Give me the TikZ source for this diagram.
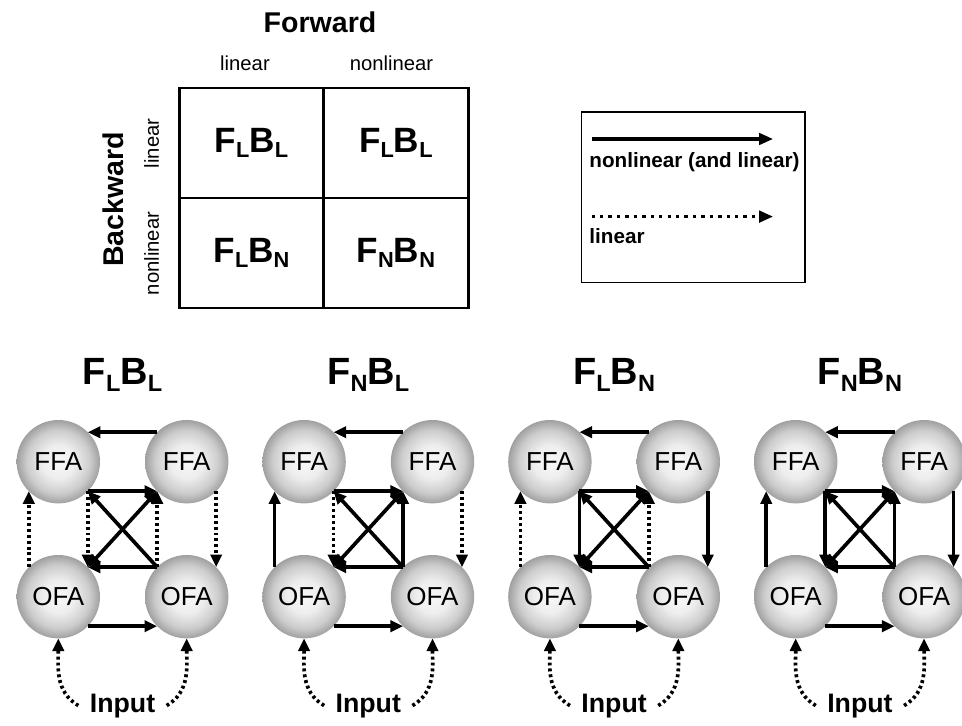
\documentclass[tikz,border=0pt]{standalone}
\usepackage{fontspec}
\setmainfont{Liberation Sans}
\usepackage{tikz}
\usetikzlibrary{arrows.meta,positioning,calc}
\definecolor{ballgray}{RGB}{160,160,160}
\definecolor{ballwhite}{RGB}{248,248,248}
\pgfdeclareradialshading{areaball}{\pgfpoint{0bp}{0bp}}{%
  color(0bp)=(ballwhite); color(10bp)=(ballwhite!88!ballgray);
  color(19bp)=(ballwhite!50!ballgray); color(25bp)=(ballgray); color(50bp)=(ballgray)}
\newcommand{\lowsub}[1]{\raisebox{-0.16em}{\scalebox{0.62}{#1}}}
\newcommand{\fbpair}[2]{F\lowsub{#1}B\lowsub{#2}}

\begin{document}
\begin{tikzpicture}[
      cell/.style={rectangle, draw=black, line width=2pt, outer sep=0pt, inner sep=0pt,
                   minimum width=3.61cm, minimum height=2.75cm,
                   font=\fontsize{25}{28}\selectfont\bfseries},
      heading/.style={font=\fontsize{20.3}{24}\selectfont\bfseries, inner sep=0pt},
      axislabel/.style={font=\fontsize{14.4}{17}\selectfont, inner sep=0pt},
      keytext/.style={font=\fontsize{14.7}{17}\selectfont\bfseries, inner sep=0pt, anchor=west},
      title/.style={font=\fontsize{27}{30}\selectfont\bfseries, anchor=base},
      area/.style={circle, shading=areaball, minimum size=2.085cm,
                   inner sep=0pt, outer sep=0pt, font=\fontsize{18.5}{20}\selectfont},
      inp/.style={font=\fontsize{19}{22}\selectfont\bfseries, anchor=base, inner xsep=8pt},
      arrowtip/.style={-{Triangle[length=9pt, width=8pt]}},
      nonlinarr/.style={arrowtip, line width=2.6pt},
      linarr/.style={arrowtip, line width=2.6pt, dash pattern=on 2.1pt off 2.1pt},
      keysolid/.style={-{Triangle[length=10pt, width=8pt]}, line width=3pt},
      keydot/.style={-{Triangle[length=10pt, width=8pt]}, line width=2.6pt,
                     dash pattern=on 2.4pt off 3.6pt},
    ]
      \useasboundingbox (0,0) rectangle (24.05,18.125);
      %% model space table
      \node[heading] (fwd) at (8.0,17.56) {Forward};
      \node[heading, rotate=90] (bwd) at (2.83,13.145) {Backward};
      \node[axislabel] (flin) at (6.125,16.54) {linear};
      \node[axislabel] (fnon) at (9.79,16.54) {nonlinear};
      \node[axislabel, rotate=90] (blin) at (3.79,14.54) {linear};
      \node[axislabel, rotate=90] (bnon) at (3.79,11.79) {nonlinear};
      \node[cell] (cLL) at (6.2875,14.55) {\fbpair{L}{L}};
      \node[cell, right=0pt of cLL] (cNL) {\fbpair{L}{L}};
      \node[cell, below=0pt of cLL] (cLN) {\fbpair{L}{N}};
      \node[cell, right=0pt of cLN] (cNN) {\fbpair{N}{N}};
      %% key
      \node[draw, line width=1pt, outer sep=0pt, minimum width=5.585cm,
            minimum height=4.257cm] (key) at (17.3325,13.1965) {};
      \coordinate (ks1) at (14.79,14.65);
      \coordinate (ke1) at (19.33,14.65);
      \coordinate (ks2) at (14.79,12.71);
      \coordinate (ke2) at (19.33,12.71);
      \draw[keysolid] (ks1) -- (ke1);
      \node[keytext] (knl) at (14.73,14.08) {nonlinear (and linear)};
      \draw[keydot] (ks2) -- (ke2);
      \node[keytext] (klin) at (14.73,12.23) {linear};
      %% the four models
      \foreach \i/\fw/\bw/\fs/\bs in {0/linarr/linarr/L/L, 1/nonlinarr/linarr/N/L,
                                      2/linarr/nonlinarr/L/N, 3/nonlinarr/nonlinarr/N/N}{
        \begin{scope}[xshift=\i*6.145cm]
          \node[title] (t\i) at (3.0625,8.5) {\fbpair{\fs}{\bs}};
          \node[area] (fl\i) at (1.4575,6.5825) {FFA};
          \node[area] (fr\i) at (4.6675,6.5825) {FFA};
          \node[area] (ol\i) at (1.4575,3.2075) {OFA};
          \node[area] (or\i) at (4.6675,3.2075) {OFA};
          \node[inp] (in\i) at (3.0625,0.325) {Input};
          %% lateral
          \draw[nonlinarr] (fr\i.135) -- (fl\i.45);
          \draw[nonlinarr] (fl\i.-45) -- (fr\i.-135);
          \draw[nonlinarr] (or\i.135) -- (ol\i.45);
          \draw[nonlinarr] (ol\i.-45) -- (or\i.-135);
          \draw[nonlinarr] (or\i.135) -- (fl\i.-45);
          \draw[nonlinarr, {Triangle[length=9pt, width=8pt]}-{Triangle[length=9pt, width=8pt]}]
              (ol\i.45) -- (fr\i.-135);
          %% forward
          \draw[\fw] (ol\i.135) -- (fl\i.-135);
          \draw[\fw] (or\i.135) -- (fr\i.-135);
          %% backward
          \draw[\bw] (fl\i.-45) -- (ol\i.45);
          \draw[\bw] (fr\i.-45) -- (or\i.45);
          %% input
          \draw[linarr] (in\i.west) to[out=150, in=-90] (ol\i.south);
          \draw[linarr] (in\i.east) to[out=30, in=-90] (or\i.south);
        \end{scope}
      }
\end{tikzpicture}
\end{document}
